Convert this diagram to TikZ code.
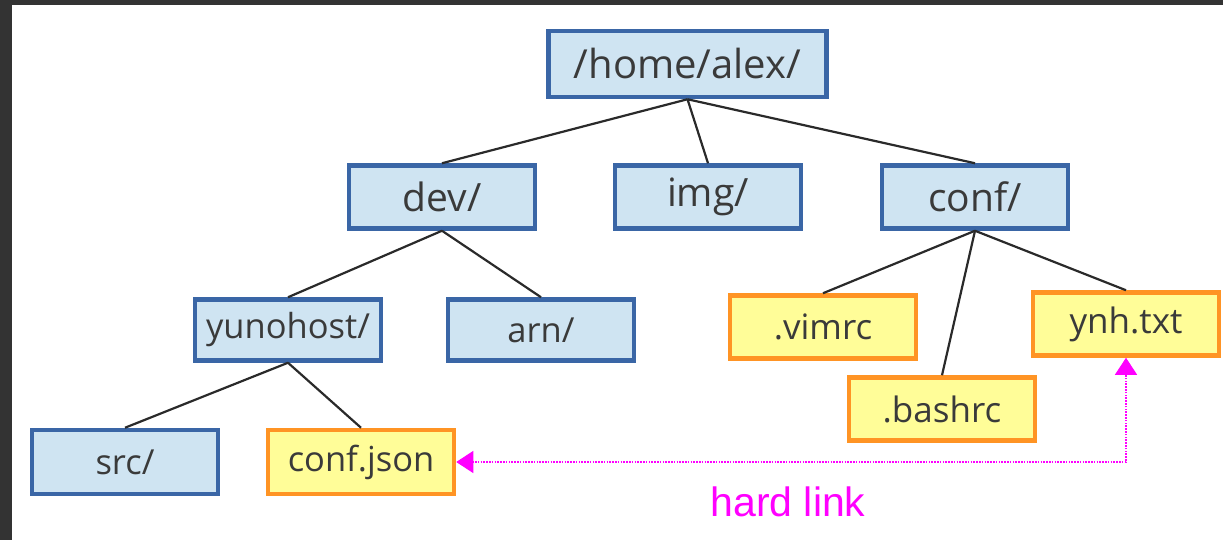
\documentclass[tikz,border=0pt]{standalone}
\usepackage{fontspec}
\setmainfont{Open Sans}
\newfontfamily\linkfont{Liberation Sans}
\usetikzlibrary{arrows.meta}
\definecolor{dirfill}{HTML}{CFE4F2}
\definecolor{dirline}{HTML}{3A66A6}
\definecolor{filefill}{HTML}{FFFD98}
\definecolor{fileline}{HTML}{FF9424}
\definecolor{txtgray}{HTML}{3A3A3A}
\definecolor{edgegray}{HTML}{2A2A2A}
\definecolor{frame}{HTML}{333333}
\definecolor{linkpink}{HTML}{FF00FF}
\begin{document}
\begin{tikzpicture}[x=1pt,y=-1pt,
  box/.style={rectangle, line width=4.5pt, inner sep=0pt, text=txtgray,
    minimum width=186pt, minimum height=63pt, font=\fontsize{39}{44}\selectfont},
  dirbox/.style={box, draw=dirline, fill=dirfill},
  filebox/.style={box, draw=fileline, fill=filefill, font=\fontsize{35}{40}\selectfont},
  smallfont/.style={font=\fontsize{34.5}{40}\selectfont},
  edge/.style={draw=edgegray, line width=2.2pt},
  link/.style={draw=linkpink, line width=2.2pt, dash pattern=on 1.6pt off 1.2pt},
  linkhead/.style={draw=linkpink, fill=linkpink, line width=1pt, solid,
    -{Triangle[width=22pt,length=17pt]}}]
\useasboundingbox (0,0) rectangle (1223,540);
% dark frame strips along the top and left
\fill[frame] (0,0) rectangle (1223,5);
\fill[frame] (0,0) rectangle (12,540);

% directories
\node[dirbox, minimum width=278pt, minimum height=66pt, font=\fontsize{40}{46}\selectfont] (home) at (687.5,64) {/home/alex/};
\node[dirbox] (dev)  at (442,197) {dev/};
\node[dirbox] (img)  at (708,197) {img/};
\node[dirbox] (conf) at (975,197) {conf/};
\node[dirbox, minimum height=61pt, smallfont] (yuno) at (288,330) {yunohost/};
\node[dirbox, minimum height=61pt, smallfont] (arn)  at (541,330) {arn/};
\node[dirbox, minimum height=64pt, smallfont] (src)  at (125,462) {src/};

% files
\node[filebox] (vimrc)  at (823,327) {.vimrc};
\node[filebox] (ynh)    at (1126,324) {ynh.txt};
\node[filebox] (bashrc) at (942,409) {.bashrc};
\node[filebox, minimum height=64pt, smallfont] (cjson) at (361,462) {conf.json};

% tree edges
\draw[edge] (home.south) -- (dev.north);
\draw[edge] (home.south) -- (img.north);
\draw[edge] (home.south) -- (conf.north);
\draw[edge] (dev.south) -- (yuno.north);
\draw[edge] (dev.south) -- (arn.north);
\draw[edge] (conf.south) -- (vimrc.north);
\draw[edge] (conf.south) -- (bashrc.north);
\draw[edge] (conf.south) -- (ynh.north);
\draw[edge] (yuno.south) -- (src.north);
\draw[edge] (yuno.south) -- (cjson.north);

% hard link between the two files: dotted run, solid heads at both ends
\coordinate (corner) at (ynh.south |- cjson.east);
\draw[link] ([xshift=16pt]cjson.east) -- (corner) -- ([yshift=-16pt]ynh.south);
\draw[linkhead] ([xshift=17pt]cjson.east) -- (cjson.east);
\draw[linkhead] ([yshift=-17pt]ynh.south) -- (ynh.south);
\node[text=linkpink, font=\linkfont\fontsize{41}{46}\selectfont] (hl) at (788,502) {hard link};
\end{tikzpicture}
\end{document}
